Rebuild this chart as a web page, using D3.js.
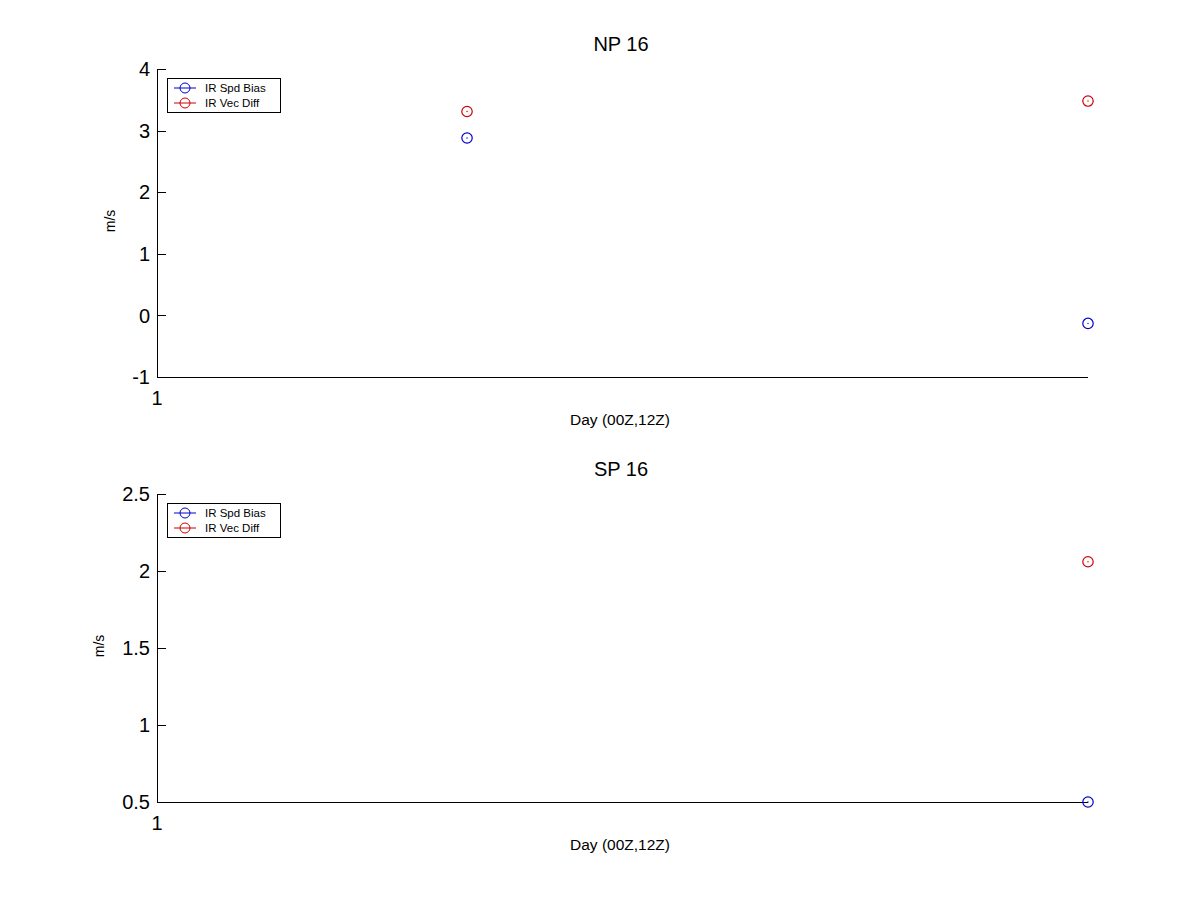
<!DOCTYPE html>
<html>
<head>
<meta charset="utf-8">
<script src="https://cdn.jsdelivr.net/npm/d3@7/dist/d3.min.js"></script>
<style>
  body { margin: 0; background: #fff; }
  svg { display: block; font-family: Arial, "Liberation Sans", Helvetica, sans-serif; }
</style>
</head>
<body>
<svg id="chart" width="1201" height="901"></svg>
<script>
// ---- data ----
const seriesNames = ["IR Spd Bias", "IR Vec Diff"];
const seriesColors = ["#0000cc", "#cc0000"];
const xTickLabels = ["1"];

const npTitle = "NP 16";
const npX = [1.333, 2];
const npSpdBias = [2.88, -0.13];
const npVecDiff = [3.31, 3.48];
const npYTicks = [-1, 0, 1, 2, 3, 4];

const spTitle = "SP 16";
const spX = [1.333, 2];
const spSpdBias = [null, 0.5];
const spVecDiff = [null, 2.06];
const spYTicks = [0.5, 1, 1.5, 2, 2.5];

const xLabel = "Day (00Z,12Z)";
const yLabel = "m/s";

// ---- drawing ----
const svg = d3.select("#chart");

function panel(cfg) {
  const { top, bottom, left, right, title, xs, s1, s2, yTicks, yLabelX } = cfg;
  const g = svg.append("g");
  const x = d3.scaleLinear().domain([1, 2]).range([left, right]);
  const y = d3.scaleLinear().domain([yTicks[0], yTicks[yTicks.length - 1]]).range([bottom, top]);

  // axes lines (crisp)
  g.append("line").attr("x1", left + 0.5).attr("x2", left + 0.5).attr("y1", top).attr("y2", bottom + 0.5)
    .attr("stroke", "#000").attr("stroke-width", 1);
  g.append("line").attr("x1", left).attr("x2", right).attr("y1", bottom + 0.5).attr("y2", bottom + 0.5)
    .attr("stroke", "#000").attr("stroke-width", 1);

  // y ticks (inward)
  yTicks.forEach(t => {
    const yy = Math.round(y(t)) + 0.5;
    g.append("line").attr("x1", left).attr("x2", left + 9).attr("y1", yy).attr("y2", yy)
      .attr("stroke", "#000").attr("stroke-width", 1);
    g.append("text").attr("x", left - 7).attr("y", y(t)).attr("dy", "0.36em")
      .attr("text-anchor", "end").attr("font-size", 20).text(String(t));
  });

  // x ticks
  xTickLabels.forEach(lab => {
    const xv = +lab;
    g.append("text").attr("x", x(xv)).attr("y", bottom + 28)
      .attr("text-anchor", "middle").attr("font-size", 20).text(lab);
  });

  // title
  g.append("text").attr("x", 621).attr("y", top - 18).attr("text-anchor", "middle")
    .attr("font-size", 20).text(title);
  // x label
  g.append("text").attr("x", 620).attr("y", bottom + 48).attr("text-anchor", "middle")
    .attr("font-size", 15.5).text(xLabel);
  // y label
  const ym = (top + bottom) / 2 - 2;
  g.append("text").attr("transform", `translate(${yLabelX},${ym}) rotate(-90)`)
    .attr("text-anchor", "middle").attr("font-size", 14).text(yLabel);

  // data points
  [s1, s2].forEach((vals, si) => {
    vals.forEach((v, i) => {
      if (v === null) return;
      g.append("circle").attr("cx", x(xs[i])).attr("cy", y(v)).attr("r", 5.2)
        .attr("fill", "none").attr("stroke", seriesColors[si]).attr("stroke-width", 1.2);
      g.append("circle").attr("cx", x(xs[i])).attr("cy", y(v)).attr("r", 0.7)
        .attr("fill", seriesColors[si]);
    });
  });

  // legend
  const lx = 167, ly = top + 9;
  g.append("rect").attr("x", lx + 0.5).attr("y", ly + 0.5).attr("width", 113).attr("height", 34)
    .attr("fill", "#fff").attr("stroke", "#000").attr("stroke-width", 1);
  seriesNames.forEach((name, i) => {
    const ry = ly + 10 + i * 15;
    g.append("line").attr("x1", lx + 7).attr("x2", lx + 29).attr("y1", ry).attr("y2", ry)
      .attr("stroke", seriesColors[i]).attr("stroke-width", 1);
    g.append("circle").attr("cx", lx + 18).attr("cy", ry).attr("r", 5)
      .attr("fill", "none").attr("stroke", seriesColors[i]).attr("stroke-width", 1);
    g.append("text").attr("x", lx + 38).attr("y", ry).attr("dy", "0.36em")
      .attr("font-size", 11.5).text(name);
  });
}

panel({ top: 69, bottom: 377, left: 157, right: 1088, title: npTitle,
  xs: npX, s1: npSpdBias, s2: npVecDiff, yTicks: npYTicks, yLabelX: 115 });
panel({ top: 494, bottom: 802, left: 157, right: 1088, title: spTitle,
  xs: spX, s1: spSpdBias, s2: spVecDiff, yTicks: spYTicks, yLabelX: 104 });
</script>
</body>
</html>
